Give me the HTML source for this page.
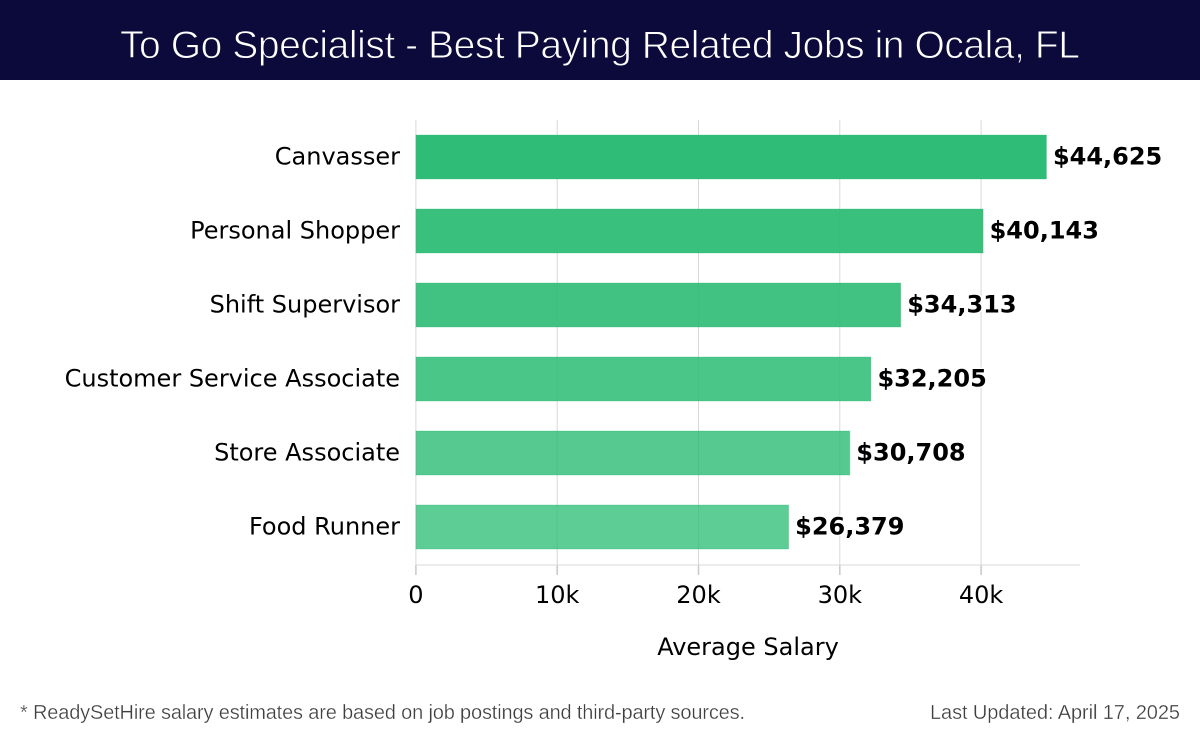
<!DOCTYPE html>
<html lang="en">
<head>
<meta charset="utf-8">
<title>To Go Specialist - Best Paying Related Jobs in Ocala, FL</title>
<style>
html,body{margin:0;padding:0;background:#fff;width:1200px;height:740px;overflow:hidden}
svg{display:block}
.dj{font-family:"DejaVu Sans",sans-serif}
.lib{font-family:"Liberation Sans",sans-serif}
</style>
</head>
<body>
<svg id="chart" width="1200" height="740" viewBox="0 0 1200 740" xmlns="http://www.w3.org/2000/svg">
  <rect x="0" y="0" width="1200" height="740" fill="#ffffff"/>
  <rect x="0" y="0" width="1200" height="80" fill="#0c0a3a"/>
  <text x="600" y="58" text-anchor="middle" class="lib" font-size="39" fill="#ffffff" stroke="#0c0a3a" stroke-width="0.9" textLength="960" lengthAdjust="spacing">To Go Specialist - Best Paying Related Jobs in Ocala, FL</text>
  <g id="grid"></g>
  <g id="bars"></g>
  <g id="axes"></g>
  <text x="748" y="655" text-anchor="middle" class="dj" font-size="24" fill="#000000">Average Salary</text>
  <text x="20" y="719" class="lib" font-size="20" fill="#3f3f3f" stroke="#ffffff" stroke-width="0.3" textLength="725" lengthAdjust="spacing">* ReadySetHire salary estimates are based on job postings and third-party sources.</text>
  <text x="1180" y="719" text-anchor="end" class="lib" font-size="20" fill="#3f3f3f" stroke="#ffffff" stroke-width="0.3" textLength="250" lengthAdjust="spacing">Last Updated: April 17, 2025</text>
</svg>
<script>
const categories = ["Canvasser", "Personal Shopper", "Shift Supervisor", "Customer Service Associate", "Store Associate", "Food Runner"];
const salaries = [44625, 40143, 34313, 32205, 30708, 26379];
const salaryLabels = ["$44,625", "$40,143", "$34,313", "$32,205", "$30,708", "$26,379"];
const tickValues = [0, 10000, 20000, 30000, 40000];
const tickLabels = ["0", "10k", "20k", "30k", "40k"];

const NS = "http://www.w3.org/2000/svg";
const plotLeft = 415.9, plotRight = 1080, plotTop = 120, plotBottom = 565;
const pxPerUnit = 141.3 / 10000;
const firstBandTop = 135, bandStep = 74, barHeight = 44;

function xScale(v) { return plotLeft + v * pxPerUnit; }
function yScale(i) { return firstBandTop + i * bandStep; }
function make(tag, attrs, parent) {
  const el = document.createElementNS(NS, tag);
  for (const k in attrs) el.setAttribute(k, attrs[k]);
  parent.appendChild(el);
  return el;
}

const gridGroup = document.getElementById("grid");
const barsGroup = document.getElementById("bars");
const axesGroup = document.getElementById("axes");

tickValues.forEach(function (v, i) {
  const gx = xScale(v);
  const line = make("line", { x1: gx, x2: gx, y1: plotTop, y2: plotBottom, stroke: "#d8d8d8", "stroke-width": 1 }, gridGroup);
  
  
  const tick = make("line", { x1: gx, x2: gx, y1: plotBottom, y2: plotBottom + 10, stroke: "#c8c8c8", "stroke-width": 1.5 }, axesGroup);
  
  
  const label = make("text", { x: gx, y: 603, "text-anchor": "middle", class: "dj", "font-size": 24, fill: "#000000" }, axesGroup);
  label.textContent = tickLabels[i];
  
  
});

const baseLine = make("line", { x1: plotLeft, x2: plotRight, y1: plotBottom, y2: plotBottom, stroke: "#d8d8d8", "stroke-width": 1 }, axesGroup);



categories.forEach(function (name, i) {
  const y = yScale(i);
  const cy = y + barHeight / 2;
  const bar = make("rect", {
    x: plotLeft, y: y, width: xScale(salaries[i]) - plotLeft, height: barHeight,
    fill: "#2abb73", "fill-opacity": 0.98 - i * 0.045,
    stroke: "#2abb73", "stroke-opacity": 0.3, "stroke-width": 1
  }, barsGroup);
  
  

  const cat = make("text", { x: 400, y: cy + 7.5, "text-anchor": "end", class: "dj", "font-size": 24, fill: "#000000" }, axesGroup);
  cat.textContent = name;
  
  

  const val = make("text", {
    x: xScale(salaries[i]) + 6.5, y: cy + 7.5, class: "dj", "font-size": 24, "font-weight": "bold", fill: "#000000",
    stroke: "#ffffff", "stroke-width": 3, "paint-order": "stroke"
  }, barsGroup);
  val.textContent = salaryLabels[i];
  
  
});
</script>
</body>
</html>
